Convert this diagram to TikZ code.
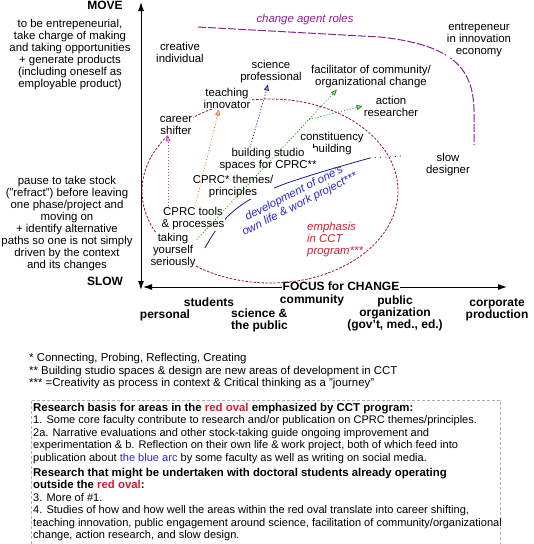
\documentclass[tikz,border=0pt]{standalone}
\usepackage{fontspec}
\setmainfont{Liberation Sans}
\usetikzlibrary{arrows.meta, positioning}
\definecolor{ovalred}{RGB}{160,20,50}
\definecolor{emphred}{RGB}{210,30,45}
\definecolor{rolepurple}{RGB}{140,30,150}
\definecolor{arcnavy}{RGB}{25,25,140}
\definecolor{arcblue}{RGB}{40,40,210}
\definecolor{shiftmag}{RGB}{200,50,200}
\definecolor{teachorange}{RGB}{230,120,60}
\definecolor{facilgreen}{RGB}{30,150,30}
\definecolor{framegray}{RGB}{175,175,175}

\begin{document}
\begin{tikzpicture}[x=1pt, y=-1pt, >=Latex,
  txt/.style={font=\fontsize{11.4}{12}\selectfont, align=center, inner sep=1pt},
  slant/.style={font=\fontsize{11.4}{12}\selectfont\itshape, align=center, inner sep=1pt},
  role/.style={txt, fill=white},
  axis/.style={font=\fontsize{12}{12}\selectfont\bfseries, align=center, inner sep=1pt},
  cue/.style={draw=#1, line width=0.8pt, dash pattern=on 1pt off 2pt,
    -{Triangle[length=6pt, width=5pt, fill=#1!35]}},
  note/.style={font=\fontsize{11.4}{12.3}\selectfont, align=left, inner sep=0pt},
  basis/.style={font=\fontsize{11.05}{12.5}\selectfont, align=left, inner sep=0pt}]
  \useasboundingbox (0,0) rectangle (534,544);

  % axes
  \coordinate (top) at (141,2);
  \coordinate (corner) at (141,290);
  \coordinate (left) at (143,287);
  \coordinate (right) at (507,287);
  \draw[<->, line width=1pt, >={Latex[length=9pt, width=6pt]}] (top) -- (corner);
  \draw[<->, line width=1pt, >={Latex[length=9pt, width=6pt]}] (left) -- (right);
  \node[axis, fill=white, inner sep=0.5pt] (focus) at (341,286) {FOCUS for CHANGE};
  \node[axis] (move) at (105,5) {MOVE};
  \node[axis] (slow) at (105,281) {SLOW};

  % left side explanations
  \node[txt] (entre) at (70,55) {to be entrepeneurial,\\take charge of making\\and taking opportunities\\+ generate products\\(including oneself as\\employable product)};
  \node[txt] (pause) at (67,224) {pause to take stock\\("refract") before leaving\\one phase/project and\\moving on\\+ identify alternative\\paths so one is not simply\\driven by the context\\and its changes};

  % red oval and blue arc
  \draw[ovalred, line width=0.8pt, dash pattern=on 2.5pt off 1.5pt] (270,191) ellipse [x radius=128, y radius=92];
  \coordinate (arcA) at (205,248);
  \coordinate (arcB) at (370,158);
  \coordinate (arcC) at (402,156);
  \draw[arcnavy, line width=0.8pt] (arcA) .. controls (225,210) and (250,196) .. (290,182)
    .. controls (320,172) and (345,165) .. (arcB);
  \draw[arcnavy, line width=0.8pt, dash pattern=on 1pt off 4pt] (arcB) -- (arcC);

  % change agent roles
  \draw[rolepurple, line width=1pt, dash pattern=on 8pt off 2pt] (198,27) -- (380,37)
    .. controls (455,45) and (473,70) .. (474,110) -- (474,145);
  \node[slant, text=rolepurple] (agent) at (305,20) {change agent roles};

  % roles
  \node[role] (creative) at (180,52) {creative\\individual};
  \node[role] (science) at (271,72) {science\\professional};
  \node[role] (teaching) at (227,98) {teaching\\innovator};
  \node[role] (career) at (176,125) {career\\shifter};
  \node[role] (facil) at (371,77) {facilitator of community/\\organizational change};
  \node[role] (action) at (391,106) {action\\researcher};
  \node[role] (entrepeneur) at (479,40) {entrepeneur\\in innovation\\economy};
  \node[role] (constit) at (332,144) {constituency\\building};
  \node[role] (slowdes) at (448,165) {slow\\designer};

  % CCT program areas
  \node[role] (studio) at (268,160) {building studio\\spaces for CPRC**};
  \node[role] (themes) at (233,187) {CPRC* themes/\\principles};
  \node[role] (tools) at (193,219) {CPRC tools\\\& processes};
  \node[role] (taking) at (173,251) {taking\\yourself\\seriously};
  \node[slant, text=arcblue, rotate=27, inner sep=0pt] (devarc) at (297,199) {development of one's\\own life \& work project***};
  \node[slant, text=emphred, align=left, anchor=west] (emph) at (306,240) {emphasis\\in CCT\\program***};

  % paths into roles
  \draw[cue=shiftmag] ([xshift=-25pt]tools.north) -- ([xshift=-8pt]career.south);
  \draw[cue=teachorange] ([xshift=2pt]tools.north) -- ([xshift=-8pt]teaching.south);
  \draw[cue=arcnavy] ([xshift=-18pt]studio.north) -- ([xshift=-3pt]science.south);
  \draw[cue=facilgreen] ([yshift=-7pt]taking.north east) -- coordinate[pos=0.8] (branch) ([xshift=-34pt]facil.south);
  \draw[cue=facilgreen] (branch) -- (action.west);

  % focus for change
  \node[axis] (personal) at (165,315) {personal};
  \node[axis] (students) at (209,302) {students};
  \node[axis, align=left, anchor=west] (sciencepub) at (230,320) {science \&\\the public};
  \node[axis] (community) at (312,300) {community};
  \node[axis] (publicorg) at (395,313) {public\\organization\\(gov't, med., ed.)};
  \node[axis] (corporate) at (497,310) {corporate\\production};

  % footnotes
  \node[note, anchor=north west] (notes) at (29,353.5) {* Connecting, Probing, Reflecting, Creating\\
    ** Building studio spaces \& design are new areas of development in CCT\\
    *** =Creativity as process in context \& Critical thinking as a "journey"};

  % research box
  \draw[framegray, dash pattern=on 3pt off 2pt] (500,560) -- (500,400) -- (31,400) -- (31,560);
  \node[basis, anchor=north west] (research) at (33,403) {{\fontsize{11.4}{12.5}\selectfont\bfseries Research basis for areas in the \textcolor{emphred}{red oval} emphasized by CCT program:}\\
    1. Some core faculty contribute to research and/or publication on CPRC themes/principles.\\
    2a. Narrative evaluations and other stock-taking guide ongoing improvement and\\
    experimentation \& b. Reflection on their own life \& work project, both of which feed into\\
    publication about \textcolor{arcblue}{the blue arc} by some faculty as well as writing on social media.\\[2.5pt]
    {\fontsize{11.4}{12.5}\selectfont\bfseries Research that might be undertaken with doctoral students already operating}\\
    {\fontsize{11.4}{12.5}\selectfont\bfseries outside the \textcolor{emphred}{red oval}:}\\
    3. More of \#1.\\
    4. Studies of how and how well the areas within the red oval translate into career shifting,\\
    teaching innovation, public engagement around science, facilitation of community/organizational\\
    change, action research, and slow design.};
\end{tikzpicture}
\end{document}
